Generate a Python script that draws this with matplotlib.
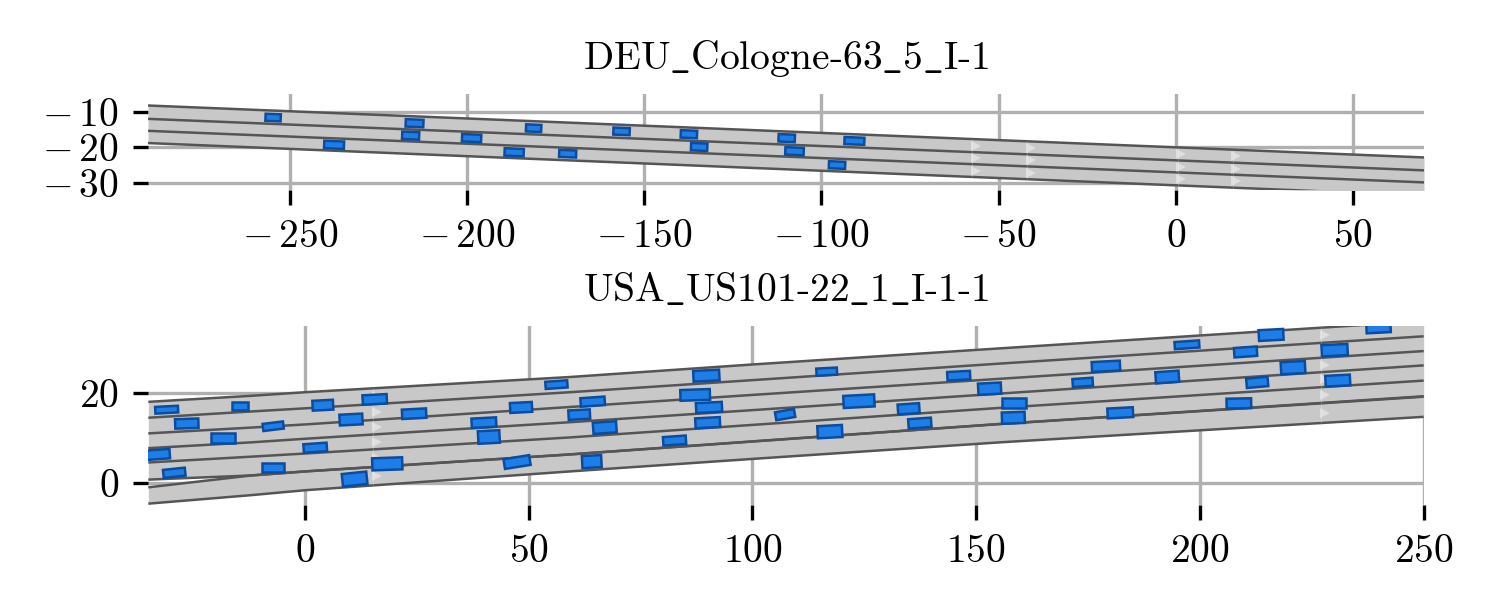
import numpy as np
import matplotlib
matplotlib.use("Agg")
import matplotlib.pyplot as plt
from matplotlib.patches import Rectangle

plt.rcParams['font.family'] = 'serif'
plt.rcParams['font.serif'] = ['cmr10']
plt.rcParams['mathtext.fontset'] = 'cm'
plt.rcParams['axes.formatter.use_mathtext'] = True
plt.rcParams['font.size'] = 9.5

# ---------- top scenario ----------
top_title = r'$\mathrm{DEU\_Cologne\text{-}63\_5\_I\text{-}1}$'
top_xticks = [-250, -200, -150, -100, -50, 0, 50]
top_yticks = [-30, -20, -10]
top_road_x = [-290, 70]
top_edges = [
    [-8.2, -22.86],
    [-11.97, -26.5],
    [-15.35, -29.9],
    [-18.8, -33.6],
]
top_arrow_x = [-56.5, -41, 1.5, 17]
top_veh_x = [-254.7, -214.8, -215.9, -181.2, -198.7, -237.5, -186.7, -171.6,
             -156.4, -137.4, -134.5, -109.8, -107.6, -90.7, -95.6]
top_veh_y = [-11.6, -13.2, -16.7, -14.6, -17.4, -19.3, -21.4, -21.8,
             -15.5, -16.3, -19.9, -17.4, -21.1, -18.2, -25.0]
top_veh_len = [4.3, 5.0, 4.8, 4.3, 5.4, 5.6, 5.4, 4.8,
               4.6, 4.6, 4.6, 4.6, 5.2, 5.6, 4.6]
top_veh_wid = [2.0, 2.1, 2.1, 2.0, 2.1, 2.1, 2.1, 2.0,
               2.0, 2.1, 2.1, 2.1, 2.1, 2.0, 2.0]
top_veh_ang = [-2.3] * 15

# ---------- bottom scenario ----------
bot_title = r'$\mathrm{USA\_US101\text{-}22\_1\_I\text{-}1\text{-}1}$'
bot_xticks = [0, 50, 100, 150, 200, 250]
bot_yticks = [0, 20]
bot_road_x = [-35, -12, 0, 59.2, 100, 155.3, 250]
bot_edges_upper = [
    [18.05, 19.4, 20.2, 23.6, 26.4, 30.0, 36.1],
    [14.5, 15.9, 16.6, 20.2, 22.9, 26.6, 32.7],
    [11.0, 12.3, 13.0, 16.9, 19.6, 23.2, 29.4],
    [7.7, 9.0, 9.8, 13.5, 16.2, 19.9, 26.2],
    [4.5, 5.8, 6.5, 10.1, 12.9, 16.7, 22.8],
    [0.67, 1.6, 2.5, 6.3, 9.2, 13.1, 19.2],
]
bot_edges_lower = [
    [-1.05, 1.6, 2.5, 6.3, 9.2, 13.1, 19.3],
    [-4.7, -2.8, -1.7, 2.5, 5.3, 9.0, 14.7],
]
bot_arrow_x = [16, 228]
bot_veh_x = [-30.9, -14.5, 4.0, 15.6, 56.2, -26.4, -7.1, 10.3, 24.4, 48.3, 40.0, -18.3, 41.1,
             -32.8, 2.3, -29.2, -7.2, 18.4, 11.1, 47.4, 89.7, 116.6, 146.1, 64.3, 87.2, 90.3,
             123.8, 134.9, 153.0, 61.3, 67.0, 90.0, 107.3, 117.3, 137.4, 82.6, 64.1, 197.1,
             215.9, 239.9, 210.2, 230.1, 179.0, 220.8, 173.8, 192.7, 212.8, 230.8, 158.4,
             158.3, 182.2, 208.7]
bot_veh_y = [16.3, 17.1, 17.3, 18.6, 21.9, 13.2, 12.6, 14.1, 15.4, 16.8, 13.4, 9.9, 10.2,
             6.3, 7.8, 2.2, 3.4, 4.2, 0.8, 4.6, 23.9, 24.8, 23.9, 18.1, 19.6, 16.8,
             18.2, 16.5, 21.0, 15.2, 12.3, 13.4, 15.2, 11.4, 13.3, 9.4, 4.7, 30.8,
             33.0, 34.7, 29.2, 29.6, 26.0, 25.7, 22.4, 23.6, 22.4, 22.8, 17.8,
             14.5, 15.6, 17.7]
bot_veh_len = [5.1, 3.6, 4.6, 5.4, 4.9, 5.2, 4.6, 5.1, 5.4, 4.9, 5.5, 5.2, 4.8,
               5.2, 5.2, 4.9, 4.9, 6.7, 5.5, 5.8, 5.8, 4.6, 5.1, 5.4, 6.6, 5.8,
               6.9, 4.8, 5.1, 4.8, 5.2, 5.5, 4.3, 5.5, 5.1, 5.1, 4.3, 5.5,
               5.5, 5.4, 5.1, 5.8, 6.3, 5.4, 4.5, 5.2, 4.8, 5.5, 5.4,
               5.1, 5.7, 5.5]
bot_veh_wid = [1.5, 1.9, 2.2, 2.1, 1.6, 2.1, 1.6, 2.4, 2.1, 2.2, 2.1, 2.2, 2.8,
               2.1, 1.9, 1.8, 2.1, 2.7, 2.8, 2.2, 2.4, 1.6, 1.9, 1.9, 2.4, 2.2,
               2.7, 2.2, 2.5, 2.1, 2.5, 2.2, 1.8, 2.7, 2.1, 1.9, 2.7, 1.6,
               2.4, 2.4, 2.1, 2.5, 2.2, 2.7, 1.8, 2.5, 2.1, 2.4, 2.1,
               2.5, 2.2, 2.2]
bot_veh_ang = [3, 0, 3, 3, 4, 2, 7, 3, 3, 3, 3, 0, 3,
               4, 4, 6, 0, 2, 6, 9, 3, 3, 3, 4, 2, 3,
               3, 4, 3, 3, 4, 3, 10, 3, 4, 4, 3, 4,
               3, 3, 4, 3, 3, 3, 4, 4, 5, 3, 0,
               2, 3, 1]

ROAD = '#c8c8c8'
LINE = '#555555'
CAR = '#1d7eea'
CAR_EDGE = '#0b4c9c'
GRID = '#b0b0b0'


def draw_band(ax, x, edges):
    x = np.asarray(x, float)
    ax.fill_between(x, edges[0], edges[-1], color=ROAD, lw=0, zorder=1)
    for e in edges:
        ax.plot(x, e, color=LINE, lw=0.6, zorder=2, solid_capstyle='butt')


def draw_arrows(ax, x, edges, arrow_x):
    for a in arrow_x:
        ys = [np.interp(a, x, e) for e in edges]
        ax.vlines(a - 0.9, ys[-1], ys[0], color='white', lw=0.25, alpha=0.2, zorder=3)
        mids = [(ys[i] + ys[i + 1]) / 2 for i in range(len(ys) - 1)]
        ax.plot([a] * len(mids), mids, ls='none', marker='>', ms=2.4, mew=0,
                color='white', alpha=0.42, zorder=3)


def draw_vehicles(ax, xs, ys, ls, ws, angs):
    for x, y, l, w, a in zip(xs, ys, ls, ws, angs):
        ax.add_patch(Rectangle((x - l / 2, y - w / 2), l, w, angle=a, rotation_point='center',
                               facecolor=CAR, edgecolor=CAR_EDGE, lw=0.6, zorder=4))


def tick_text(t):
    return f'$-\\,{abs(t)}$' if t < 0 else f'${t}$'


def style(ax, xlim, ylim, xticks, yticks, title):
    ax.set_xlim(*xlim)
    ax.set_ylim(*ylim)
    ax.set_aspect('equal', adjustable='box')
    ax.set_xticks(xticks)
    ax.set_yticks(yticks)
    ax.set_xticklabels([tick_text(t) for t in xticks])
    ax.set_yticklabels([tick_text(t) for t in yticks])
    ax.grid(True, color=GRID, lw=0.8)
    ax.set_axisbelow(True)
    for s in ax.spines.values():
        s.set_visible(False)
    ax.set_title(title, fontsize=9.5)


fig = plt.figure(figsize=(5, 2), dpi=300)
ax1 = fig.add_axes([148 / 1500, 1 - 190 / 600, 1276 / 1500, 96 / 600])
ax2 = fig.add_axes([148 / 1500, 1 - 505 / 600, 1276 / 1500, 179 / 600])

draw_band(ax1, top_road_x, top_edges)
draw_arrows(ax1, top_road_x, top_edges, top_arrow_x)
draw_vehicles(ax1, top_veh_x, top_veh_y, top_veh_len, top_veh_wid, top_veh_ang)
style(ax1, (-290, 70), (-32, -5), top_xticks, top_yticks, top_title)

draw_band(ax2, bot_road_x, bot_edges_upper)
draw_band(ax2, bot_road_x, bot_edges_lower)
draw_arrows(ax2, bot_road_x, bot_edges_upper, bot_arrow_x)
draw_arrows(ax2, bot_road_x, bot_edges_lower, bot_arrow_x)
draw_vehicles(ax2, bot_veh_x, bot_veh_y, bot_veh_len, bot_veh_wid, bot_veh_ang)
style(ax2, (-35, 250), (-5, 35), bot_xticks, bot_yticks, bot_title)

fig.savefig('out.png', dpi=300)
